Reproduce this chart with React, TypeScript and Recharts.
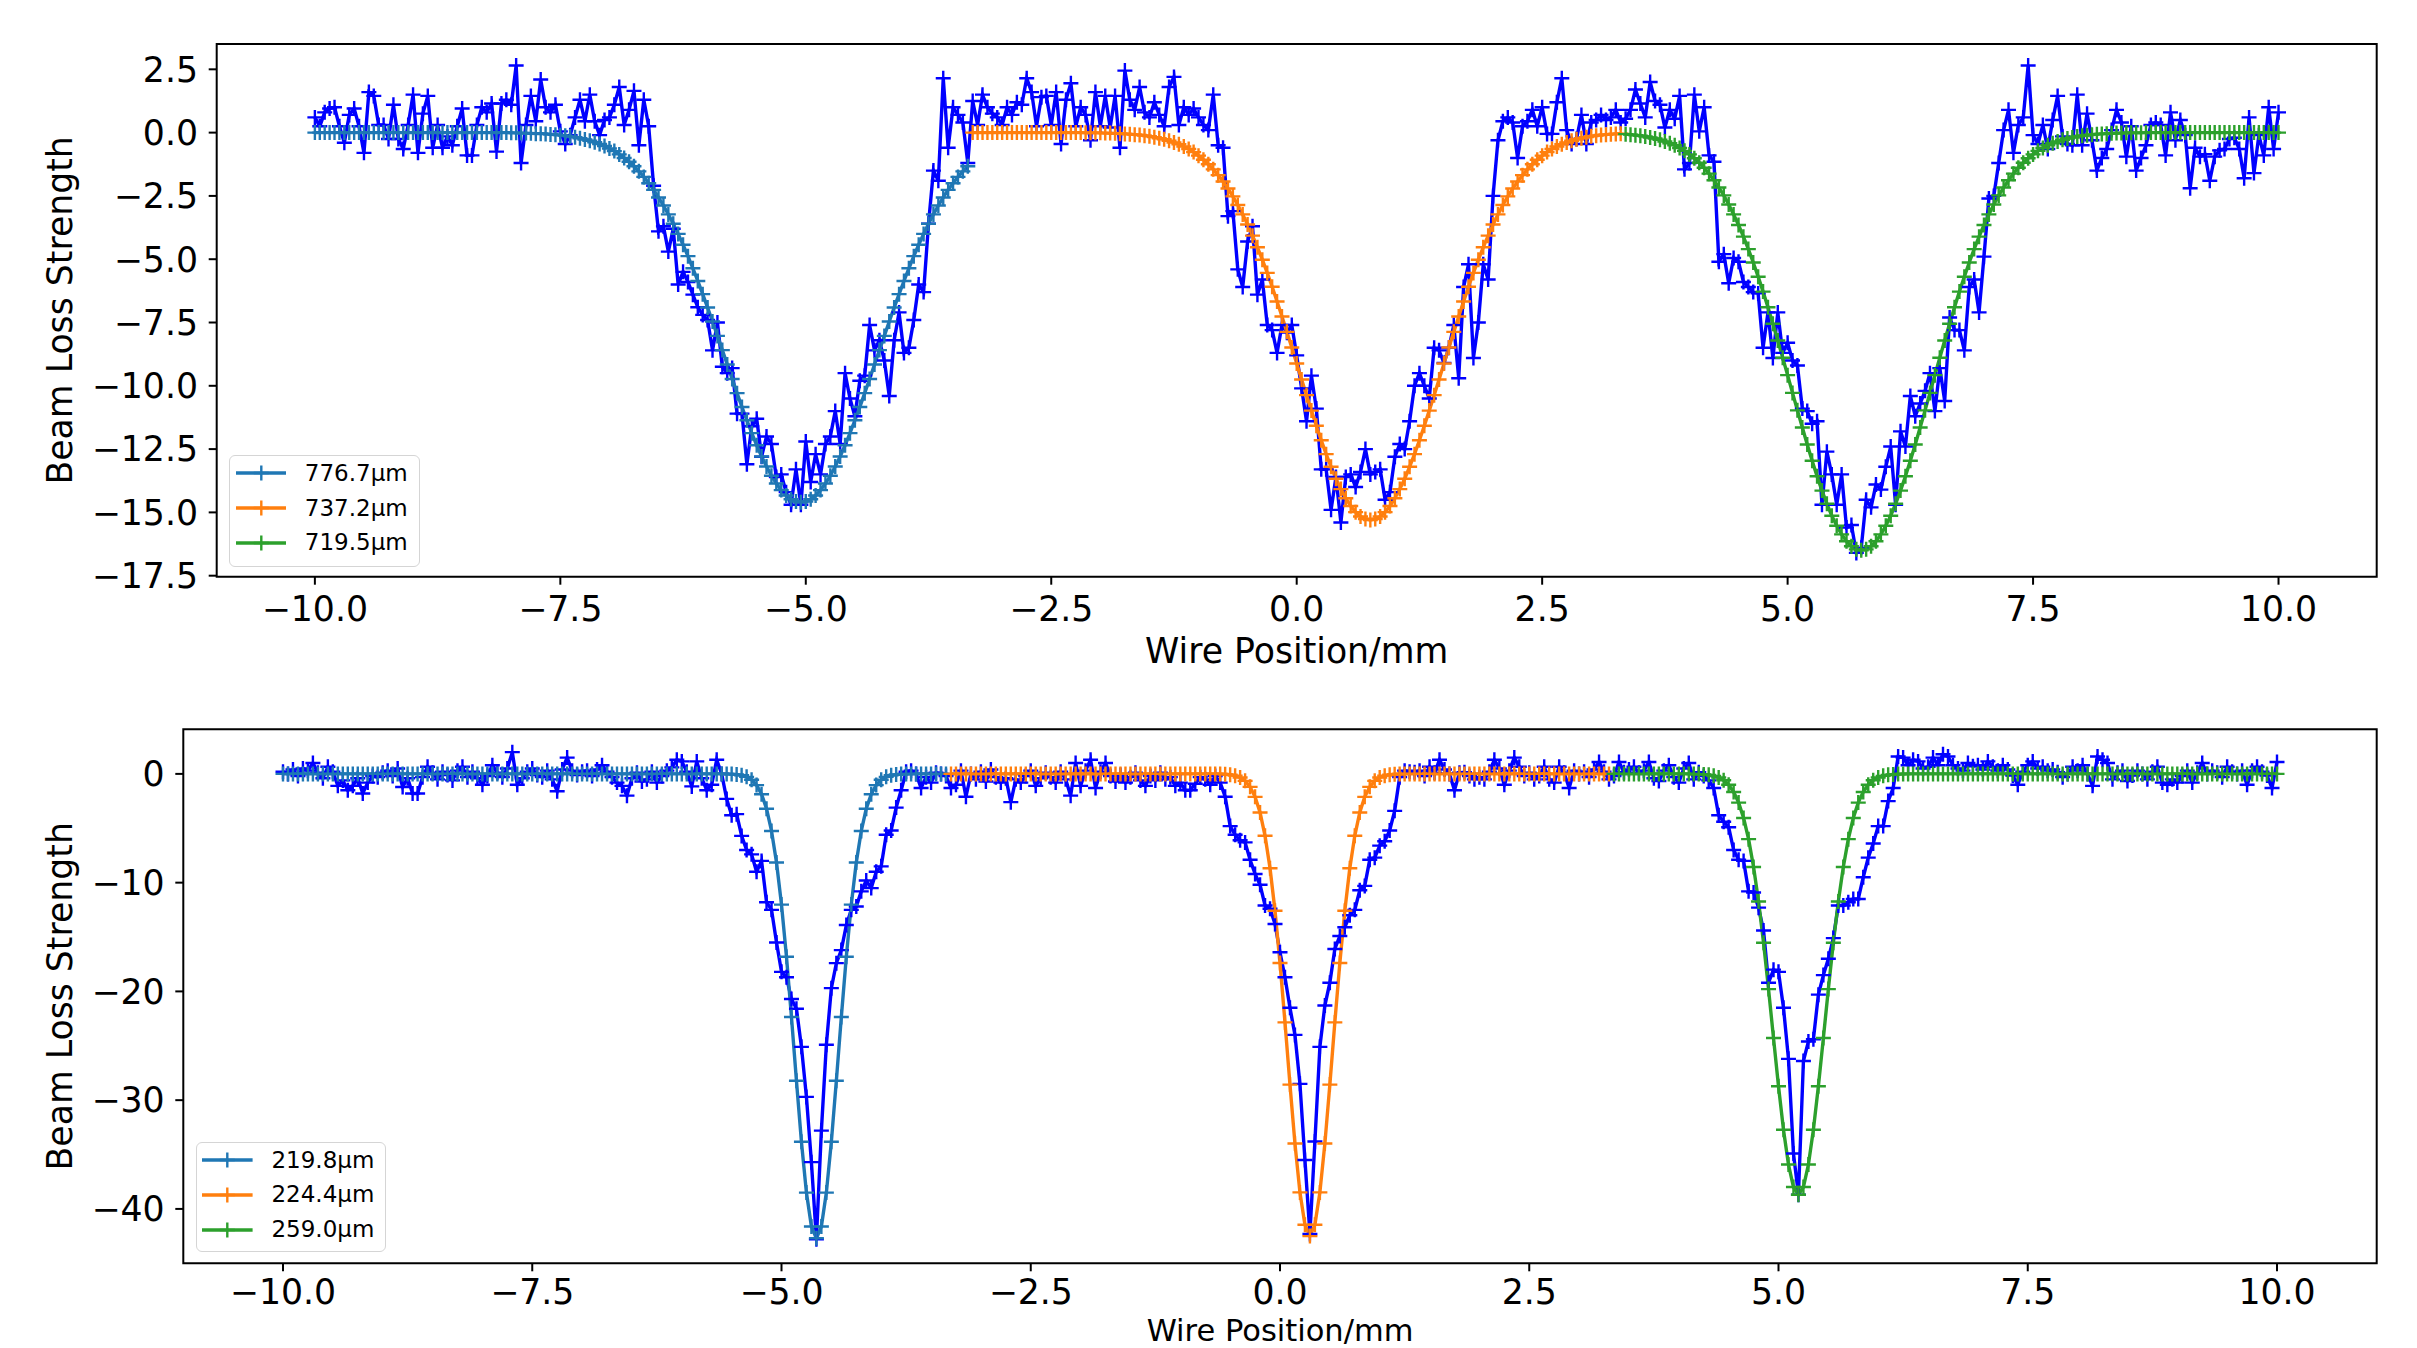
import { LineChart, Line, XAxis, YAxis, Legend, ReferenceArea } from "recharts";

// ─── Sampling grid (wire position, mm) ──────────────────────────────────────
const X_START = -10;
const X_STEP = 0.05;
// each fit covers one third of the scan
const SEGMENT_START = [0, 134, 267];

const X_TICKS = [-10, -7.5, -5, -2.5, 0, 2.5, 5, 7.5, 10];
const TOP_Y_TICKS = [2.5, 0, -2.5, -5, -7.5, -10, -12.5, -15, -17.5];
const BOTTOM_Y_TICKS = [0, -10, -20, -30, -40];

const TOP_LABELS = ["776.7μm", "737.2μm", "719.5μm"];
const BOTTOM_LABELS = ["219.8μm", "224.4μm", "259.0μm"];

// ─── Upper scan: measured beam loss ────────────────────────────────────────
const TOP_MEASURED = [
  0.6, 0.25, 0.8, 0.95, 1.0, 0.25, -0.4, 0.7, 0.95, 0.25,
  -0.8, 1.6, 1.45, 0.3, 0.3, -0.25, 1.1, -0.25, -0.65, 0.3,
  1.5, -0.8, 0.75, 1.45, -0.6, 0.3, -0.6, -0.15, -0.5, 0.25,
  0.95, -0.9, -0.9, 0.3, 1.0, 0.8, 1.15, -0.75, 1.15, 1.3,
  1.1, 2.65, -1.2, 0.3, 1.45, 0.45, 2.1, 1.0, 0.8, 1.1,
  0.05, -0.45, -0.1, 0.6, 1.3, 0.45, 1.5, 0.45, -0.1, 0.5,
  0.6, 1.1, 1.8, 0.3, 0.9, 1.65, -0.5, 1.3, 0.25, -2.1,
  -3.9, -3.7, -4.7, -3.8, -6.0, -5.5, -5.9, -6.4, -6.9, -7.2,
  -7.4, -8.6, -7.5, -9.25, -9.5, -9.3, -11.1, -11.1, -13.1, -11.6,
  -11.3, -12.8, -12.0, -12.3, -13.6, -13.5, -14.2, -14.7, -13.3, -14.7,
  -12.2, -13.8, -12.7, -13.5, -12.3, -12.0, -11.0, -12.3, -9.5, -10.5,
  -11.2, -9.8, -9.6, -7.6, -8.6, -8.2, -9.0, -10.4, -8.2, -7.1,
  -8.7, -8.5, -7.4, -6.0, -6.3, -3.6, -1.5, -1.9, 2.15, -0.6,
  1.0, 0.7, 0.4, -1.2, 1.25, 0.3, 1.5, 1.0, 0.75, 0.6,
  0.3, 1.0, 0.7, 1.2, 1.1, 2.15, 1.6, 0.25, 1.4, 1.45,
  0.3, 1.6, -0.45, 1.3, 1.95, 0.25, 1.0, 0.7, -0.3, 1.6,
  0.25, 1.45, 0.2, 1.45, -0.6, 2.45, 1.3, 0.9, 1.8, 0.8,
  0.6, 1.2, 0.7, 0.25, 1.8, 2.2, 0.3, 1.0, 0.7, 0.95,
  0.6, 0.3, 0.1, 1.5, -0.5, -0.6, -3.3, -3.1, -5.4, -6.1,
  -4.3, -3.7, -6.4, -5.8, -7.6, -7.8, -8.7, -7.6, -7.9, -7.6,
  -8.8, -10.1, -11.4, -9.6, -10.9, -13.3, -13.3, -14.9, -13.6, -15.4,
  -13.6, -13.5, -14.0, -13.4, -12.5, -13.5, -13.4, -13.3, -14.5, -14.2,
  -12.8, -12.3, -12.5, -11.4, -10.0, -9.5, -10.0, -10.5, -8.5, -8.6,
  -9.1, -8.5, -7.6, -9.7, -6.1, -5.2, -8.9, -7.5, -5.2, -5.8,
  -2.5, -0.3, 0.45, 0.6, 0.4, -1.0, 0.25, 0.45, 0.9, 0.25,
  1.0, -0.05, -0.05, 1.2, 2.15, 0.1, -0.45, -0.25, 0.7, -0.45,
  0.4, 0.5, 0.7, 0.5, 0.6, 0.9, 0.4, 0.55, 0.9, 1.7,
  1.15, 0.6, 2.0, 1.25, 1.1, 0.2, 0.9, 0.55, 1.45, -1.45,
  -1.2, 1.5, 0.05, 1.0, -0.9, -1.15, -5.1, -4.8, -5.95, -4.95,
  -5.1, -5.9, -6.1, -6.3, -6.35, -8.5, -7.1, -8.9, -7.1, -8.7,
  -8.3, -9.0, -9.2, -10.9, -11.0, -11.5, -11.4, -14.7, -12.6, -13.5,
  -14.7, -13.5, -15.6, -15.5, -16.6, -16.4, -14.5, -14.8, -13.9, -14.1,
  -13.2, -12.4, -14.7, -11.8, -12.4, -10.4, -11.2, -10.7, -10.2, -9.5,
  -11.0, -9.3, -10.6, -7.3, -7.8, -7.8, -8.6, -6.1, -5.8, -7.1,
  -4.9, -2.6, -2.5, -1.2, 0.1, 0.9, -0.8, 0.3, 0.6, 2.65,
  -0.1, -0.45, 0.3, -0.65, 0.5, 1.45, -0.15, -0.45, -0.5, 1.5,
  -0.5, 0.75, -0.3, -1.5, -1.0, -0.65, 0.1, 0.9, 0.4, -0.95,
  0.25, -1.5, -1.0, -0.5, 0.3, 0.4, 0.3, -0.9, 0.8, -0.3,
  0.5, -0.1, -2.2, -0.6, -0.95, -0.85, -1.9, -0.95, -0.7, -0.65,
  -0.25, -0.2, -0.65, -1.8, 0.6, -1.6, -0.1, -0.9, 1.0, -0.65,
  0.8,
];

// ─── Upper scan: fitted profiles ────────────────────────────────────────────
const TOP_FIT_1 = [
  0, 0, 0, 0, 0, 0, 0, 0, 0, 0, 0, 0, 0, 0, 0, 0, 0, 0, 0, 0,
  0, 0, 0, 0, 0, 0, 0, 0, 0, 0, 0, 0, 0, 0, 0, 0, 0, 0, 0, 0,
  -0.01, -0.01, -0.02, -0.02, -0.03, -0.04, -0.04, -0.05, -0.07, -0.08,
  -0.1, -0.12, -0.15, -0.18, -0.22, -0.27, -0.32, -0.38, -0.45, -0.53,
  -0.63, -0.73, -0.86, -1.0, -1.15, -1.33, -1.53, -1.75, -2.0, -2.26,
  -2.56, -2.88, -3.23, -3.6, -4.0, -4.43, -4.88, -5.36, -5.86, -6.38,
  -6.91, -7.46, -8.03, -8.59, -9.16, -9.73, -10.29, -10.84, -11.36, -11.87,
  -12.35, -12.79, -13.19, -13.55, -13.86, -14.12, -14.33, -14.48, -14.57, -14.6,
  -14.57, -14.48, -14.33, -14.12, -13.86, -13.55, -13.19, -12.79, -12.35, -11.87,
  -11.36, -10.84, -10.29, -9.73, -9.16, -8.59, -8.03, -7.46, -6.91, -6.38,
  -5.86, -5.36, -4.88, -4.43, -4.0, -3.6, -3.23, -2.88, -2.56, -2.26,
  -2.0, -1.75, -1.53, -1.33,
];

const TOP_FIT_2 = [
  0, 0, 0, 0, 0, 0, 0, 0, 0, 0, 0, 0, 0, 0, 0, 0, 0, 0, 0, 0,
  0, 0, 0,
  -0.01, -0.01, -0.01, -0.01, -0.02, -0.02, -0.03, -0.04, -0.05, -0.06,
  -0.08, -0.09, -0.12, -0.14, -0.18, -0.22, -0.26, -0.32, -0.39, -0.46,
  -0.55, -0.65, -0.77, -0.91, -1.07, -1.25, -1.45, -1.68, -1.93, -2.21,
  -2.52, -2.86, -3.23, -3.63, -4.07, -4.53, -5.02, -5.54, -6.09, -6.67,
  -7.26, -7.87, -8.49, -9.12, -9.75, -10.37, -10.98, -11.58, -12.15, -12.7,
  -13.2, -13.67, -14.08, -14.44, -14.75, -14.99, -15.16, -15.26, -15.3, -15.26,
  -15.16, -14.99, -14.75, -14.44, -14.08, -13.67, -13.2, -12.7, -12.15, -11.58,
  -10.98, -10.37, -9.75, -9.12, -8.49, -7.87, -7.26, -6.67, -6.09, -5.54,
  -5.02, -4.53, -4.07, -3.63, -3.23, -2.86, -2.52, -2.21, -1.93, -1.68,
  -1.45, -1.25, -1.07, -0.91, -0.77, -0.65, -0.55, -0.46, -0.39, -0.32,
  -0.26, -0.22, -0.18, -0.14, -0.12, -0.09, -0.08, -0.06, -0.05, -0.04,
];

const TOP_FIT_3 = [
  -0.06, -0.08, -0.1, -0.12, -0.15, -0.19, -0.23, -0.28, -0.35, -0.42,
  -0.5, -0.61, -0.72, -0.86, -1.01, -1.19, -1.39, -1.62, -1.88, -2.17,
  -2.48, -2.84, -3.23, -3.65, -4.11, -4.6, -5.13, -5.69, -6.28, -6.9,
  -7.55, -8.21, -8.89, -9.58, -10.28, -10.97, -11.65, -12.32, -12.96, -13.57,
  -14.14, -14.66, -15.13, -15.53, -15.87, -16.14, -16.34, -16.46, -16.5, -16.46,
  -16.34, -16.14, -15.87, -15.53, -15.13, -14.66, -14.14, -13.57, -12.96, -12.32,
  -11.65, -10.97, -10.28, -9.58, -8.89, -8.21, -7.55, -6.9, -6.28, -5.69,
  -5.13, -4.6, -4.11, -3.65, -3.23, -2.84, -2.48, -2.17, -1.88, -1.62,
  -1.39, -1.19, -1.01, -0.86, -0.72, -0.61, -0.5, -0.42, -0.35, -0.28,
  -0.23, -0.19, -0.15, -0.12, -0.1, -0.08, -0.06, -0.05, -0.04, -0.03,
  -0.02, -0.02, -0.01, -0.01, -0.01, -0.01,
  0, 0, 0, 0, 0, 0, 0, 0, 0, 0, 0, 0, 0, 0, 0, 0, 0, 0, 0, 0,
  0, 0, 0, 0, 0, 0, 0, 0,
];

// ─── Lower scan: measured beam loss ────────────────────────────────────────
const BOTTOM_MEASURED = [
  0.2, 0.0, 0.4, -0.2, 0.5, 0.3, 1.0, 0.1, -0.4, 0.65,
  0.2, -1.1, -0.6, -1.5, -1.1, -0.4, -1.8, -0.8, -0.2, -0.3,
  0.1, 0.3, -0.2, 0.5, -1.2, -0.4, -1.8, -1.8, -0.3, 0.65,
  0.1, -0.5, 0.2, -0.1, -0.6, 0.3, 0.65, -0.3, 0.2, -0.4,
  -1.0, -0.2, 0.8, 0.1, -0.3, 0.5, 2.0, -1.0, -0.4, 0.2,
  0.5, -0.1, -0.3, 0.3, -0.5, -1.6, 0.4, 1.5, 0.3, -0.1,
  0.2, 0.3, -0.2, 0.4, 0.8, 0.2, -0.3, -0.8, -1.1, -2.0,
  -0.4, 0.1, -0.7, -0.5, 0.2, -0.8, -0.2, 0.3, 0.6, 1.3,
  1.15, 0.2, -1.15, 1.15, -0.4, -1.5, -1.0, 1.3, 0.0, -2.3,
  -3.8, -3.7, -5.7, -7.0, -7.4, -9.0, -8.0, -11.8, -12.5, -15.5,
  -18.2, -18.7, -20.7, -21.6, -25.1, -29.7, -35.7, -42.8, -32.8, -24.9,
  -19.7, -17.4, -16.2, -13.9, -12.5, -12.2, -10.8, -9.8, -10.5, -9.0,
  -8.5, -5.6, -5.2, -3.1, -1.5, 0.2, 0.3, 0.0, -1.3, -0.3,
  -0.8, 0.1, 0.0, -0.2, -1.3, -1.0, 0.3, -2.1, 0.0, -0.5,
  0.2, -0.7, 0.4, -0.3, -0.8, -0.4, -2.6, -0.5, -0.8, -0.2,
  0.3, -1.1, -0.4, 0.1, -0.3, -0.8, 0.2, -0.5, -2.0, 1.0,
  -1.1, 0.3, 1.3, -1.3, 0.2, 1.0, -0.2, -0.7, -0.1, -0.8,
  -0.3, 0.1, -0.6, -1.1, -0.2, -0.6, 0.1, -0.5, -0.3, -1.1,
  -0.8, -1.5, -1.5, -0.9, -0.3, -0.5, -1.0, -0.2, -0.8, -2.1,
  -4.8, -5.6, -6.1, -6.3, -7.9, -9.2, -10.2, -12.1, -12.4, -13.8,
  -16.4, -18.7, -21.5, -24.0, -28.5, -35.5, -42.3, -33.8, -25.1, -21.3,
  -19.2, -16.1, -14.9, -14.1, -13.0, -12.5, -10.7, -10.3, -7.9, -7.7,
  -6.6, -6.2, -5.2, -3.4, -0.3, 0.3, 0.2, 0.15, 0.3, -0.2,
  0.65, 0.1, 1.3, 0.4, 0.0, -1.5, 0.1, 0.15, -0.2, -0.5,
  -0.3, -0.5, 0.2, 1.3, 0.5, -1.0, 0.3, 1.5, 0.65, -0.2,
  0.1, -0.5, -0.2, 0.65, -0.5, -0.8, 0.65, 0.1, -1.3, 0.3,
  0.0, 0.2, -0.3, 0.4, 1.1, 0.2, -0.5, -0.2, 1.1, 0.15,
  0.4, 0.65, 0.1, 0.3, 1.1, -0.4, -0.65, 0.3, 0.8, -0.3,
  -0.8, 0.5, 1.0, -0.5, 0.15, -0.2, -0.6, -1.3, -3.8, -4.4,
  -4.9, -7.0, -7.9, -8.0, -10.8, -10.9, -12.3, -14.4, -19.2, -18.0,
  -18.2, -21.5, -26.2, -34.9, -38.7, -26.4, -24.6, -24.4, -20.3, -18.5,
  -17.0, -15.1, -12.1, -12.1, -11.8, -11.5, -11.5, -9.5, -7.7, -6.4,
  -4.8, -4.8, -2.5, -1.3, 1.6, 1.5, 0.8, 1.3, 1.15, 0.5,
  0.65, 1.5, 0.8, 1.8, 1.6, 0.8, 0.5, 0.3, 1.0, 0.7,
  0.8, 0.4, 1.15, 0.65, 0.3, 0.8, 0.4, -0.15, -1.0, 0.2,
  0.8, 1.15, 0.5, 0.65, 0.3, 0.4, 0.15, -0.3, 0.0, 0.65,
  0.3, 0.8, 0.0, -1.1, 1.6, 1.3, 1.0, -0.5, 0.1, 0.3,
  -0.65, -0.15, 0.3, 0.0, -0.5, 0.2, 0.65, -0.8, -1.0, -0.5,
  -0.8, -0.2, 0.3, -0.8, 0.1, 1.0, 0.0, 0.3, 0.1, -0.3,
  0.65, 0.2, 0.0, 0.3, -1.0, 0.3, 0.65, 0.2, -0.15, -1.3,
  1.1,
];

// ─── Lower scan: fitted profiles ────────────────────────────────────────────
const BOTTOM_FIT_1 = [
  0, 0, 0, 0, 0, 0, 0, 0, 0, 0, 0, 0, 0, 0, 0, 0, 0, 0, 0, 0,
  0, 0, 0, 0, 0, 0, 0, 0, 0, 0, 0, 0, 0, 0, 0, 0, 0, 0, 0, 0,
  0, 0, 0, 0, 0, 0, 0, 0, 0, 0, 0, 0, 0, 0, 0, 0, 0, 0, 0, 0,
  0, 0, 0, 0, 0, 0, 0, 0, 0, 0, 0, 0, 0, 0, 0, 0, 0, 0, 0, 0,
  0, 0, 0, 0, 0, 0, 0, 0, 0,
  -0.01, -0.02, -0.06, -0.13, -0.27, -0.54, -1.03, -1.87, -3.21, -5.25, -8.15,
  -12.02, -16.82, -22.36, -28.22, -33.83, -38.5, -41.61, -42.7, -41.61, -38.5,
  -33.83, -28.22, -22.36, -16.82, -12.02, -8.15, -5.25, -3.21, -1.87, -1.03,
  -0.54, -0.27, -0.13, -0.06, -0.02, -0.01,
  0, 0, 0, 0, 0, 0, 0, 0,
];

const BOTTOM_FIT_2 = [
  0, 0, 0, 0, 0, 0, 0, 0, 0, 0, 0, 0, 0, 0, 0, 0, 0, 0, 0, 0,
  0, 0, 0, 0, 0, 0, 0, 0, 0, 0, 0, 0, 0, 0, 0, 0, 0, 0, 0, 0,
  0, 0, 0, 0, 0, 0, 0, 0, 0, 0, 0, 0, 0, 0,
  -0.01, -0.03, -0.07, -0.16, -0.33, -0.64, -1.19, -2.11, -3.55, -5.69,
  -8.68, -12.59, -17.39, -22.85, -28.57, -33.99, -38.48, -41.46, -42.5, -41.46,
  -38.48, -33.99, -28.57, -22.85, -17.39, -12.59, -8.68, -5.69, -3.55, -2.11,
  -1.19, -0.64, -0.33, -0.16, -0.07, -0.03, -0.01,
  0, 0, 0, 0, 0, 0, 0, 0, 0, 0, 0, 0, 0, 0, 0, 0, 0, 0, 0, 0,
  0, 0, 0, 0, 0, 0, 0, 0, 0, 0, 0, 0, 0, 0, 0, 0, 0, 0, 0, 0,
  0, 0,
];

const BOTTOM_FIT_3 = [
  0, 0, 0, 0, 0, 0, 0, 0, 0, 0, 0, 0, 0, 0, 0, 0,
  -0.01, -0.02, -0.05, -0.09, -0.18, -0.33, -0.58, -1.0, -1.66, -2.64,
  -4.06, -6.0, -8.56, -11.74, -15.53, -19.79, -24.29, -28.72, -32.72, -35.92,
  -37.99, -38.7, -37.99, -35.92, -32.72, -28.72, -24.29, -19.79, -15.53, -11.74,
  -8.56, -6.0, -4.06, -2.64, -1.66, -1.0, -0.58, -0.33, -0.18, -0.09,
  -0.05, -0.02, -0.01,
  0, 0, 0, 0, 0, 0, 0, 0, 0, 0, 0, 0, 0, 0, 0, 0, 0, 0, 0, 0,
  0, 0, 0, 0, 0, 0, 0, 0, 0, 0, 0, 0, 0, 0, 0, 0, 0, 0, 0, 0,
  0, 0, 0, 0, 0, 0, 0, 0, 0, 0, 0, 0, 0, 0, 0, 0, 0, 0, 0, 0,
  0, 0, 0, 0, 0, 0, 0, 0, 0, 0, 0, 0, 0, 0, 0,
];

// ─── Styling ────────────────────────────────────────────────────────────────
const FONT = "'DejaVu Sans', sans-serif";
const DATA_COLOR = "#0000ff";
const FIT_COLORS = ["#1f77b4", "#ff7f0e", "#2ca02c"];
const TICK_FONT = 34.7;

const minus = (v: number, digits: number) =>
  (v < 0 ? "\u2212" : "") + Math.abs(v).toFixed(digits);

function toRows(values: number[], offset: number) {
  return values.map((y, i) => ({
    x: Math.round((X_START + (offset + i) * X_STEP) * 100) / 100,
    y,
  }));
}

// matplotlib "+" marker
const plusDot = (color: string) => (p: any) => {
  const { cx, cy, index } = p;
  if (cx == null || cy == null || Number.isNaN(cy)) return <g key={`p${index}`} />;
  return (
    <path
      key={`p${index}`}
      d={`M${cx - 7.5},${cy}H${cx + 7.5}M${cx},${cy - 7.5}V${cy + 7.5}`}
      stroke={color}
      strokeWidth={2.4}
      fill="none"
    />
  );
};

interface LegendBox {
  left: number;
  top: number;
  width: number;
  height: number;
}

function FitLegend({
  payload,
  box,
  labels,
}: {
  payload?: any[];
  box: LegendBox;
  labels: string[];
}) {
  // only the fits go in the legend, in plotting order
  const entries = labels.map((label, k) => {
    const hit = (payload ?? []).find((e) => e.value === label);
    return { value: label, color: hit?.color ?? FIT_COLORS[k] };
  });
  return (
    <div
      style={{
        boxSizing: "border-box",
        width: box.width,
        height: box.height,
        border: "1.8px solid #d5d5d5",
        borderRadius: 6,
        background: "rgba(255,255,255,0.85)",
        fontFamily: FONT,
        fontSize: 23,
        color: "#000",
      }}
    >
      {entries.map((entry) => (
        <div
          key={entry.value}
          style={{ display: "flex", alignItems: "center", height: 34.8 }}
        >
          <svg
            width={50.6}
            height={20}
            style={{ marginLeft: 5.6, marginRight: 18.6, flex: "none" }}
          >
            <line x1={0} y1={10} x2={50.6} y2={10} stroke={entry.color} strokeWidth={3.6} />
            <path d="M25.3,2.5V17.5M17.8,10H32.8" stroke={entry.color} strokeWidth={2.4} />
          </svg>
          <span style={{ lineHeight: "1" }}>{entry.value}</span>
        </div>
      ))}
    </div>
  );
}

interface PanelProps {
  height: number;
  margin: { top: number; right: number; bottom: number; left: number };
  yDomain: [number, number];
  yTicks: number[];
  yDigits: number;
  measured: number[];
  fits: number[][];
  labels: string[];
  legend: LegendBox;
  xAxisHeight: number;
  xTickMargin: number;
  xTitleOffset: number;
  xTitleSize: number;
}

function Panel(props: PanelProps) {
  const { height, margin, yDomain, yTicks, yDigits, measured, fits, labels, legend } = props;
  const measuredRows = toRows(measured, 0);
  const fitRows = fits.map((f, k) => toRows(f, SEGMENT_START[k]));

  const xTitle = (lp: any) => {
    const vb = lp.viewBox ?? { x: margin.left + 150, y: 0, width: 2160 };
    return (
      <text
        x={vb.x + vb.width / 2}
        y={vb.y + props.xTitleOffset}
        textAnchor="middle"
        fontFamily={FONT}
        fontSize={props.xTitleSize}
        fill="#000"
      >
        Wire Position/mm
      </text>
    );
  };

  const yTitle = (lp: any) => {
    const vb = lp.viewBox ?? { y: margin.top, height: 532 };
    const cy = vb.y + vb.height / 2;
    return (
      <text
        x={72}
        y={cy}
        transform={`rotate(-90, 72, ${cy})`}
        textAnchor="middle"
        fontFamily={FONT}
        fontSize={TICK_FONT}
        fill="#000"
      >
        Beam Loss Strength
      </text>
    );
  };

  return (
    <LineChart width={2417} height={height} margin={margin}>
      <XAxis
        type="number"
        dataKey="x"
        domain={[-11, 11]}
        ticks={X_TICKS}
        interval={0}
        allowDataOverflow
        axisLine={false}
        tickLine={{ stroke: "#000", strokeWidth: 2 }}
        tickSize={8}
        tickMargin={props.xTickMargin}
        tick={{ fill: "#000", fontSize: TICK_FONT, fontFamily: FONT }}
        tickFormatter={(v: number) => minus(v, 1)}
        height={props.xAxisHeight}
        label={{ content: xTitle }}
      />
      <YAxis
        type="number"
        domain={yDomain}
        ticks={yTicks}
        interval={0}
        allowDataOverflow
        axisLine={false}
        tickLine={{ stroke: "#000", strokeWidth: 2 }}
        tickSize={8}
        tickMargin={10.7}
        tick={{ fill: "#000", fontSize: TICK_FONT, fontFamily: FONT }}
        tickFormatter={(v: number) => minus(v, yDigits)}
        width={150}
        label={{ content: yTitle }}
      />
      <Line
        data={measuredRows}
        dataKey="y"
        name="measured"
        stroke={DATA_COLOR}
        strokeWidth={3.4}
        dot={plusDot(DATA_COLOR)}
        activeDot={false}
        legendType="none"
        isAnimationActive={false}
      />
      {fitRows.map((rows, k) => (
        <Line
          key={labels[k]}
          name={labels[k]}
          data={rows}
          dataKey="y"
          stroke={FIT_COLORS[k]}
          strokeWidth={3.4}
          dot={plusDot(FIT_COLORS[k])}
          activeDot={false}
          isAnimationActive={false}
        />
      ))}
      <ReferenceArea
        x1={-11}
        x2={11}
        y1={yDomain[0]}
        y2={yDomain[1]}
        fill="none"
        fillOpacity={0}
        stroke="#000"
        strokeWidth={2}
        ifOverflow="visible"
      />
      <Legend
        layout="vertical"
        align="center"
        verticalAlign="middle"
        wrapperStyle={{ left: legend.left, top: legend.top, width: legend.width }}
        content={(lp: any) => (
          <FitLegend payload={lp.payload} box={legend} labels={labels} />
        )}
      />
    </LineChart>
  );
}

export default function App() {
  return (
    <div
      style={{
        position: "absolute",
        left: 0,
        top: 0,
        width: 2417,
        height: 1348,
        overflow: "hidden",
        background: "#fff",
      }}
    >
      <div style={{ position: "absolute", left: 0, top: 0 }}>
        <Panel
          height={680}
          margin={{ top: 44, right: 40.3, bottom: 13.3, left: 66.7 }}
          xAxisHeight={90}
          xTickMargin={12}
          xTitleOffset={86.3}
          xTitleSize={TICK_FONT}
          yDomain={[-17.54, 3.5]}
          yTicks={TOP_Y_TICKS}
          yDigits={1}
          measured={TOP_MEASURED}
          fits={[TOP_FIT_1, TOP_FIT_2, TOP_FIT_3]}
          labels={TOP_LABELS}
          legend={{ left: 229, top: 455, width: 191, height: 112 }}
        />
      </div>
      <div style={{ position: "absolute", left: 0, top: 680 }}>
        <Panel
          height={668}
          margin={{ top: 49.3, right: 40.3, bottom: 4.7, left: 33.3 }}
          xAxisHeight={80}
          xTickMargin={8}
          xTitleOffset={77.3}
          xTitleSize={30.5}
          yDomain={[-45, 4.1]}
          yTicks={BOTTOM_Y_TICKS}
          yDigits={0}
          measured={BOTTOM_MEASURED}
          fits={[BOTTOM_FIT_1, BOTTOM_FIT_2, BOTTOM_FIT_3]}
          labels={BOTTOM_LABELS}
          legend={{ left: 195.7, top: 461.7, width: 190, height: 110.6 }}
        />
      </div>
    </div>
  );
}
